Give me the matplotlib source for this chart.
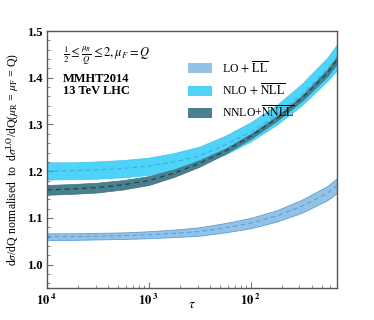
import matplotlib
matplotlib.use("Agg")
import matplotlib.pyplot as plt
from matplotlib.patches import Patch
from matplotlib.ticker import MultipleLocator, FixedLocator, NullFormatter

# tau values (log10)
log_tau = [-4.0, -3.75, -3.5, -3.25, -3.0, -2.75, -2.5, -2.25, -2.0, -1.75, -1.5, -1.25, -1.15]

lo_c = [1.060, 1.060, 1.061, 1.062, 1.064, 1.067, 1.071, 1.079, 1.089, 1.104, 1.125, 1.153, 1.170]
lo_lo = [1.053, 1.053, 1.054, 1.055, 1.0565, 1.059, 1.062, 1.069, 1.078, 1.092, 1.111, 1.138, 1.154]
lo_hi = [1.067, 1.067, 1.068, 1.069, 1.0715, 1.075, 1.080, 1.089, 1.100, 1.116, 1.139, 1.168, 1.186]

nlo_c = [1.200, 1.201, 1.203, 1.206, 1.211, 1.220, 1.233, 1.256, 1.284, 1.320, 1.364, 1.418, 1.445]
nlo_lo = [1.182, 1.183, 1.184, 1.187, 1.192, 1.201, 1.214, 1.236, 1.264, 1.299, 1.341, 1.393, 1.417]
nlo_hi = [1.219, 1.219, 1.221, 1.224, 1.229, 1.239, 1.253, 1.276, 1.305, 1.341, 1.387, 1.443, 1.473]

nnlo_c = [1.160, 1.162, 1.165, 1.171, 1.180, 1.196, 1.217, 1.243, 1.275, 1.312, 1.356, 1.410, 1.440]
nnlo_lo = [1.1495, 1.1515, 1.1545, 1.161, 1.1705, 1.188, 1.210, 1.2375, 1.270, 1.307, 1.3505, 1.403, 1.432]
nnlo_hi = [1.1705, 1.1725, 1.1755, 1.181, 1.1895, 1.204, 1.224, 1.2485, 1.280, 1.317, 1.3615, 1.417, 1.448]

xticks = [1e-4, 1e-3, 1e-2]
xtick_labels = [r"$\mathbf{10}^{\ \mathbf{4}}$", r"$\mathbf{10}^{\ \mathbf{3}}$",
                r"$\mathbf{10}^{\ \mathbf{2}}$"]
legend_labels = [r"LO$\,+\,\overline{\rm LL}$", r"NLO$\,+\,\overline{\rm NLL}$",
                 r"NNLO+$\overline{\rm NNLL}$"]


def main():
    plt.rcParams["font.family"] = "Liberation Serif"
    plt.rcParams["mathtext.fontset"] = "stix"

    tau = [10 ** v for v in log_tau]

    fig = plt.figure(figsize=(3.74, 3.2), dpi=100)
    ax = fig.add_axes([0.1257, 0.1, 0.7753, 0.803])

    # LO band
    ax.fill_between(tau, lo_lo, lo_hi, facecolor="#93c2e6", edgecolor="#5d9fd2", lw=0.6)
    ax.plot(tau, lo_c, color="#5d9fd2", lw=0.8, ls=(0, (4, 3)))
    # NLO band
    ax.fill_between(tau, nlo_lo, nlo_hi, facecolor="#4fd3f8", edgecolor="#3fc6ef", lw=0.5)
    ax.plot(tau, nlo_c, color="#30b4e0", lw=0.8, ls=(0, (4, 3)))
    # NNLO band
    ax.fill_between(tau, nnlo_lo, nnlo_hi, facecolor="#4a7f8d", edgecolor="#3d717e", lw=0.5)
    ax.plot(tau, nnlo_c, color="#1d4650", lw=0.9, ls=(0, (4, 3)))

    ax.set_xscale("log")
    ax.set_xlim(1e-4, 10 ** -1.155)
    ax.set_ylim(0.95, 1.5)

    ax.xaxis.set_major_locator(FixedLocator(xticks))
    ax.set_xticklabels(xtick_labels, fontsize=9)
    ax.xaxis.set_minor_formatter(NullFormatter())
    ax.yaxis.set_major_locator(MultipleLocator(0.1))
    ax.yaxis.set_minor_locator(MultipleLocator(0.02))
    ax.set_yticks([1.0, 1.1, 1.2, 1.3, 1.4, 1.5])
    ax.set_yticklabels(["1.0", "1.1", "1.2", "1.3", "1.4", "1.5"],
                       fontsize=9, fontweight="bold")
    ax.tick_params(which="both", direction="in", top=False, right=False,
                   color="#777777")
    ax.tick_params(which="major", length=4, width=0.8)
    ax.tick_params(which="minor", length=2, width=0.6)
    for s in ax.spines.values():
        s.set_color("#555555")
        s.set_linewidth(1.0)

    # x label placed by hand so it stays inside the small canvas
    fig.text(0.513, 0.05, r"$\tau$", fontsize=10, ha="center", va="center")
    ax.set_ylabel(r"d$\sigma$/dQ normalised  to  d$\sigma^{\rm LO}$/dQ($\mu_{\rm R}$ = $\mu_{\rm F}$ = Q)",
                  fontsize=8.5)

    ax.text(0.055, 0.905, r"$\frac{1}{2} \leq \frac{\mu_R}{Q} \leq 2, \mu_F = Q$",
            transform=ax.transAxes, fontsize=9, va="center")
    ax.text(0.055, 0.815, "MMHT2014", transform=ax.transAxes, fontsize=9,
            fontweight="bold", va="center")
    ax.text(0.055, 0.765, "13 TeV LHC", transform=ax.transAxes, fontsize=9,
            fontweight="bold", va="center")

    handles = [Patch(facecolor="#93c2e6"), Patch(facecolor="#4fd3f8"),
               Patch(facecolor="#4a7f8d")]
    ax.legend(handles, legend_labels, loc="upper left", bbox_to_anchor=(0.45, 0.93),
              frameon=False, fontsize=8.5, handlelength=2.0, handleheight=0.9,
              labelspacing=0.55, handletextpad=0.9)

    fig.savefig("out.png", dpi=100)


if __name__ == "__main__":
    main()
